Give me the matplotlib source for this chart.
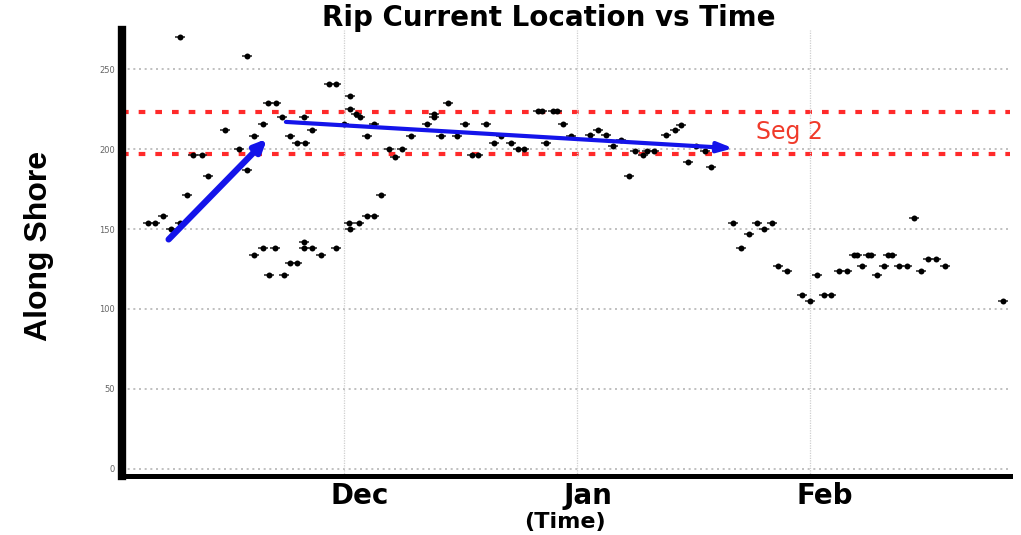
import matplotlib
matplotlib.use('Agg')
import matplotlib.pyplot as plt
import matplotlib.dates as mdates
import matplotlib.transforms as mtransforms
import pandas as pd

# days after Nov 1 (fractional) and along-shore position of the rip current
days = [3.9, 4.9, 6.0, 7.0, 8.2, 8.2, 9.2, 10.0, 11.2, 11.9,
        14.2, 16.0, 17.1, 17.1, 18.0, 18.0, 19.2, 19.2, 19.9, 20.0,
        21.0, 20.9, 21.8, 22.0, 22.8, 22.9, 23.8, 23.8, 24.7, 24.8,
        24.7, 24.7, 25.8, 25.8, 27.0, 28.0, 28.9, 28.9,
        30.0, 30.8, 30.8, 31.6, 32.2, 30.7, 32.0, 30.8, 33.1, 33.1,
        34.0, 34.0, 35.0, 36.0, 36.8, 37.8, 38.9, 41.1, 42.0, 42.0,
        42.9, 43.9, 45.1, 46.1, 47.0, 47.9, 48.9, 50.0, 50.9, 52.2,
        53.1, 54.0, 55.8, 56.3, 56.9, 57.8, 58.3, 59.2, 60.2,
        62.7, 63.8, 64.9, 65.8, 66.8, 67.9, 68.7, 69.8, 70.3, 71.2,
        72.9, 74.0, 74.8, 75.8, 76.9, 78.0, 78.9, 81.8, 82.8, 83.9,
        85.0, 85.9, 86.9, 87.8, 88.9, 90.9,
        92.0, 92.9, 93.8, 94.8, 95.8, 96.9, 97.8, 98.2, 98.9, 99.7,
        100.1, 100.9, 101.8, 102.4, 102.9, 103.9, 104.9, 105.8, 106.7, 107.7,
        108.7, 109.9, 117.7]
along_shore = [154, 154, 158, 150, 154, 270, 171, 196, 196, 183,
               212, 200, 187, 258, 208, 134, 216, 138, 229, 121,
               229, 138, 220, 121, 129, 208, 204, 129, 220, 204,
               142, 138, 212, 138, 134, 241, 241, 138,
               216, 233, 225, 222, 220, 154, 154, 150, 208, 158,
               158, 216, 171, 200, 195, 200, 208, 216, 222, 220,
               208, 229, 208, 216, 196, 196, 216, 204, 208, 204,
               200, 200, 224, 224, 204, 224, 224, 216, 208,
               209, 212, 209, 202, 206, 183, 199, 196, 199, 199,
               209, 212, 215, 192, 202, 199, 189, 154, 138, 147,
               154, 150, 154, 127, 124, 109,
               105, 121, 109, 109, 124, 124, 134, 134, 127, 134,
               134, 121, 127, 134, 134, 127, 127, 157, 124, 131,
               131, 127, 105]

seg2_bounds = [223, 197]
# arrows: (start day, start value, end day, end value)
arrow_up = [6.7, 143.5, 19.8, 206.5]
arrow_trend = [22.3, 217, 81.8, 200.5]

start = pd.Timestamp('2006-11-01')
def to_date(d):
    return start + pd.to_timedelta(d, unit='D')

dates = [to_date(d) for d in days]

fig = plt.figure(figsize=(10.21, 5.35), dpi=100)
ax = fig.add_axes([122/1021, 1-476/535, 888/1021, 446/535])

ax.set_xlim(to_date(0.5), to_date(118.6))
ax.set_ylim(-4.5, 274.5)

# grid
ax.set_yticks([0, 50, 100, 150, 200, 250])
for v in [0, 50, 100, 150, 200, 250]:
    ax.axhline(v, color='#b5b5b5', lw=1.2, ls=(0, (1.2, 2.2)), zorder=0)
ax.xaxis.set_major_locator(mdates.MonthLocator(bymonth=[12, 1, 2]))
ax.xaxis.set_major_formatter(mdates.DateFormatter('%b'))
ax.grid(axis='x', color='#cfcfcf', lw=0.9, ls=(0, (1, 1)), zorder=0)

# segment bounds
for v in seg2_bounds:
    ax.axhline(v, color='#ff2a2a', lw=3, ls=(0, (1.6, 2.4)), zorder=1)

ax.plot(dates, along_shore, ls='none', marker='_', ms=7, mew=1.2, color='#333333', zorder=3)
ax.plot(dates, along_shore, ls='none', marker='o', ms=4.3, color='black', mec='none', zorder=3)

ax.annotate('', xy=(to_date(arrow_up[2]), arrow_up[3]), xytext=(to_date(arrow_up[0]), arrow_up[1]),
            arrowprops=dict(arrowstyle='-|>,head_length=0.7,head_width=0.32', color='#1414ea', lw=4.5,
                            shrinkA=0, shrinkB=0), zorder=4)
ax.annotate('', xy=(to_date(arrow_trend[2]), arrow_trend[3]), xytext=(to_date(arrow_trend[0]), arrow_trend[1]),
            arrowprops=dict(arrowstyle='-|>,head_length=0.9,head_width=0.3', color='#1414ea', lw=3,
                            shrinkA=0, shrinkB=0), zorder=4)

ax.text(to_date(84.8), 211, 'Seg 2', color='#f03a2a', fontsize=17, va='center', ha='left')

# spines
for s in ['top', 'right']:
    ax.spines[s].set_visible(False)
ax.spines['left'].set_linewidth(6)
ax.spines['bottom'].set_linewidth(3.6)

ax.tick_params(axis='y', length=0, labelsize=6, labelcolor='#666666', pad=5)
ax.tick_params(axis='x', length=0, labelsize=20, pad=4)
offset = mtransforms.ScaledTranslation(-13/100, 0, fig.dpi_scale_trans)
for lab in ax.get_xticklabels():
    lab.set_fontweight('bold')
    lab.set_horizontalalignment('left')
    lab.set_transform(lab.get_transform() + offset)

fig.text(0.537, 0.966, 'Rip Current Location vs Time', fontsize=20, fontweight='bold',
         ha='center', va='center')
fig.text(0.553, 0.024, '(Time)', fontsize=16, fontweight='bold', ha='center', va='center')
fig.text(0.038, 0.54, 'Along Shore', fontsize=23, fontweight='bold', rotation=90,
         ha='center', va='center', family=['Liberation Sans Narrow', 'Liberation Sans', 'DejaVu Sans'])

fig.savefig('out.png', dpi=100)
